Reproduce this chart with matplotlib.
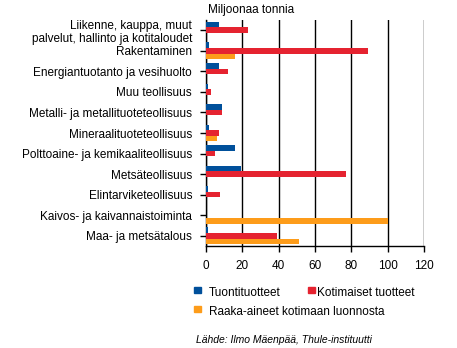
import matplotlib
matplotlib.use("Agg")
import matplotlib.pyplot as plt
import numpy as np
from matplotlib.patches import Rectangle

plt.rcParams['font.family'] = ['Liberation Sans', 'DejaVu Sans']

categories = [
    "Liikenne, kauppa, muut\npalvelut, hallinto ja kotitaloudet",
    "Rakentaminen",
    "Energiantuotanto ja vesihuolto",
    "Muu teollisuus",
    "Metalli- ja metallituoteteollisuus",
    "Mineraalituoteteollisuus",
    "Polttoaine- ja kemikaaliteollisuus",
    "Metsäteollisuus",
    "Elintarviketeollisuus",
    "Kaivos- ja kaivannaistoiminta",
    "Maa- ja metsätalous",
]
tuonti = [7.2, 1.6, 7.2, 1.1, 8.8, 1.6, 16.0, 19.3, 1.0, 0.0, 1.0]
kotimaiset = [23.1, 89.2, 12.1, 2.8, 8.8, 7.2, 5.0, 77.0, 7.7, 0.0, 39.0]
raaka = [0.0, 16.0, 0.0, 0.0, 0.0, 6.0, 0.0, 0.0, 0.0, 100.0, 51.0]
series_names = ["Tuontituotteet", "Kotimaiset tuotteet", "Raaka-aineet kotimaan luonnosta"]
xticks = [0, 20, 40, 60, 80, 100, 120]

colors = ["#00509b", "#e52330", "#fd9c1a"]

W, H = 457, 348
fig = plt.figure(figsize=(W / 100, H / 100), dpi=100)
ax = fig.add_axes([206 / W, 1 - 246 / H, (424 - 206) / W, (246 - 20) / H])

y = np.arange(len(categories))
h = 0.27
for i, (vals, c) in enumerate(zip([tuonti, kotimaiset, raaka], colors)):
    ax.barh(y + (i - 1) * h, vals, height=h, color=c, zorder=3)

ax.set_ylim(len(categories) - 0.5, -0.5)
ax.set_xlim(0, 120)
ax.set_xticks(xticks)
ax.set_xticklabels([str(v) for v in xticks], fontsize=8.5)
ax.set_yticks(y)
ax.set_yticklabels(categories, fontsize=8.5, linespacing=1.1)
ax.xaxis.grid(True, color='black', linewidth=1.0, zorder=0)
ax.tick_params(axis='y', length=4, direction='out', width=1, pad=6)
ax.tick_params(axis='x', length=4, direction='out', width=1, pad=6)
for s in ['top', 'right']:
    ax.spines[s].set_visible(False)
for s in ['left', 'bottom']:
    ax.spines[s].set_color('black')
    ax.spines[s].set_linewidth(1.0)

fig.text(208 / W, 1 - 10 / H, "Miljoonaa tonnia", fontsize=8.5, va='center', ha='left')

# legend drawn manually at fixed positions
legend_pos = [(194, 287, 0), (308, 287, 1), (194, 306, 2)]
for px, py, idx in legend_pos:
    fig.patches.append(Rectangle((px / W, 1 - (py + 6) / H), 7 / W, 6 / H,
                                 transform=fig.transFigure, color=colors[idx], figure=fig))
    fig.text((px + 15 - (0 if idx != 1 else 6)) / W, 1 - (py + 6) / H, series_names[idx],
             fontsize=8.5, va='center', ha='left')

fig.text(196 / W, 1 - 340 / H, "Lähde: Ilmo Mäenpää, Thule-instituutti", fontsize=7.5,
         style='italic', va='center', ha='left')

fig.savefig("out.png", dpi=100)
